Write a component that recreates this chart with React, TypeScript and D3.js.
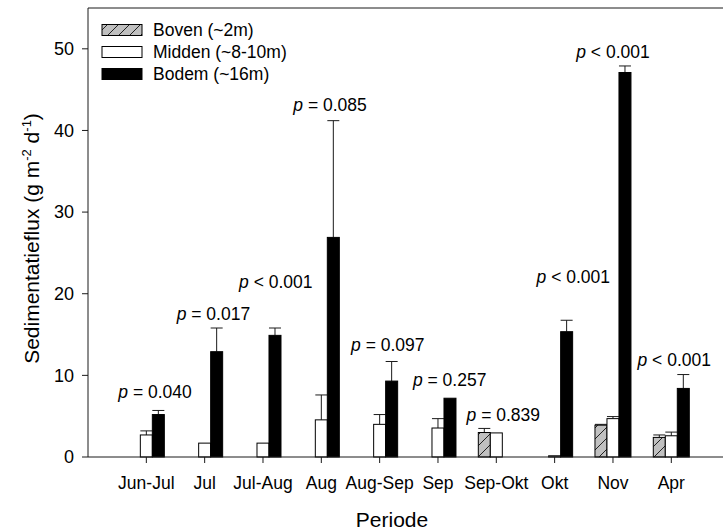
import React from 'react';
import * as d3 from 'd3';

const categories = ['Jun-Jul', 'Jul', 'Jul-Aug', 'Aug', 'Aug-Sep', 'Sep', 'Sep-Okt', 'Okt', 'Nov', 'Apr'];
const bovenValues: (number | null)[] = [null, null, null, null, null, null, 3.0, null, 3.9, 2.4];
const bovenErrors: (number | null)[] = [null, null, null, null, null, null, 0.5, null, 0.1, 0.3];
const middenValues: (number | null)[] = [2.7, 1.7, 1.7, 4.55, 4.0, 3.55, 2.95, 0.15, 4.7, 2.6];
const middenErrors: (number | null)[] = [0.5, 0, 0, 3.05, 1.2, 1.15, 0, 0, 0.25, 0.45];
const bodemValues: (number | null)[] = [5.2, 12.9, 14.9, 26.9, 9.3, 7.2, null, 15.35, 47.1, 8.4];
const bodemErrors: (number | null)[] = [0.5, 2.9, 0.9, 14.3, 2.4, 0, null, 1.4, 0.8, 1.7];
const pSigns = ['=', '=', '<', '=', '=', '=', '=', '<', '<', '<'];
const pValues = ['0.040', '0.017', '0.001', '0.085', '0.097', '0.257', '0.839', '0.001', '0.001', '0.001'];
const pLabelLevel = [8.0, 17.5, 21.4, 43.1, 13.7, 9.4, 5.1, 22.1, 49.6, 11.9];
const pLabelShift = [0.15, 0.15, 0.22, 0.15, 0.14, 0.2, 0.12, 0.32, 0, 0.05];
const yTicks = [0, 10, 20, 30, 40, 50];
const seriesNames = ['Boven (~2m)', 'Midden (~8-10m)', 'Bodem (~16m)'];

const W = 723;
const H = 530;
const left = 88;
const top = 8;
const bottom = 457;
const FONT = '"Liberation Sans", Arial, sans-serif';
const FS = 17.5;
const TFS = 21;

export default function App() {
  const x = d3.scaleLinear().domain([0, 11]).range([left, left + 11 * 58.33]);
  const y = d3.scaleLinear().domain([0, 55]).range([bottom, top]);
  const barW = 12;
  const series = [
    { vals: bovenValues, errs: bovenErrors, fill: 'url(#hatch)' },
    { vals: middenValues, errs: middenErrors, fill: '#ffffff' },
    { vals: bodemValues, errs: bodemErrors, fill: '#000000' },
  ];
  const lineCol = '#1a1a1a';

  return (
    <svg width={W} height={H} style={{ position: 'absolute', left: 0, top: 0, background: '#fff' }} fontFamily={FONT}>
      <defs>
        <pattern id="hatch" patternUnits="userSpaceOnUse" width={11} height={11}>
          <rect width={11} height={11} fill="#c0c0c0" />
          <path d="M0,11 L11,0 M-2,2 L2,-2 M9,13 L13,9" stroke="#222" strokeWidth={1} />
        </pattern>
      </defs>

      {categories.map((c, i) => {
        const cx = x(i + 1);
        return (
          <g key={c}>
            {series.map((s, k) => {
              const v = s.vals[i];
              if (v === null) return null;
              const bx = cx - 1.5 * barW + k * barW;
              const e = s.errs[i] || 0;
              return (
                <g key={k}>
                  {e > 0 && (
                    <g stroke={lineCol} strokeWidth={1}>
                      <line x1={bx + barW / 2} x2={bx + barW / 2} y1={y(v)} y2={y(v + e)} />
                      <line x1={bx} x2={bx + barW} y1={y(v + e)} y2={y(v + e)} />
                    </g>
                  )}
                  <rect x={bx} y={y(v)} width={barW} height={y(0) - y(v)} fill={s.fill} stroke="#000" strokeWidth={1} />
                </g>
              );
            })}
          </g>
        );
      })}

      {categories.map((c, i) => (
        <text key={'p' + c} x={x(i + 1 + pLabelShift[i])} y={y(pLabelLevel[i])} dy="0.35em" textAnchor="middle" fontSize={FS} fill="#000">
          <tspan fontStyle="italic">p</tspan>
          <tspan>{` ${pSigns[i]} ${pValues[i]}`}</tspan>
        </text>
      ))}

      <g stroke={lineCol} strokeWidth={1} fill="none">
        <line x1={left} x2={W} y1={bottom} y2={bottom} />
        <line x1={left} x2={W} y1={top} y2={top} />
        <line x1={left} x2={left} y1={top} y2={bottom} />
      </g>

      {yTicks.map((t) => (
        <g key={'y' + t}>
          <line x1={left - 6} x2={left} y1={y(t)} y2={y(t)} stroke={lineCol} />
          <text x={left - 14} y={y(t)} dy="0.35em" textAnchor="end" fontSize={18}>{t}</text>
        </g>
      ))}

      {categories.map((c, i) => (
        <g key={'x' + c}>
          <line x1={x(i + 1)} x2={x(i + 1)} y1={bottom} y2={bottom + 6} stroke={lineCol} />
          <text x={x(i + 1)} y={483} dy="0.35em" textAnchor="middle" fontSize={FS}>{c}</text>
        </g>
      ))}

      <text x={392} y={520} dy="0.35em" textAnchor="middle" fontSize={TFS}>Periode</text>
      <text transform={`translate(32,${(top + bottom) / 2 + 6}) rotate(-90)`} textAnchor="middle" dy="0.35em" fontSize={TFS}>
        Sedimentatieflux (g m<tspan dy="-8" fontSize={13}>-2</tspan>
        <tspan dy="8"> d</tspan>
        <tspan dy="-8" fontSize={13}>-1</tspan>
        <tspan dy="8">)</tspan>
      </text>

      {seriesNames.map((n, k) => {
        const cy = 30 + k * 22;
        return (
          <g key={n}>
            <rect x={102} y={cy - 5.5} width={40} height={11} fill={series[k].fill} stroke="#000" strokeWidth={1} />
            <text x={153} y={cy} dy="0.35em" fontSize={FS}>{n}</text>
          </g>
        );
      })}
    </svg>
  );
}
